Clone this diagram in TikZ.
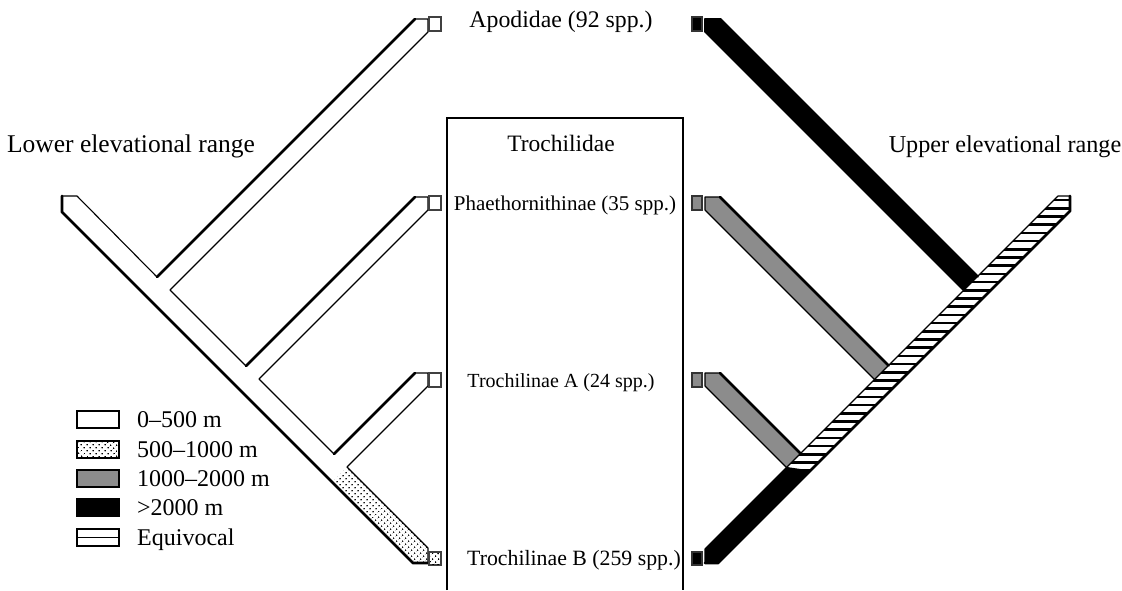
\documentclass[tikz,border=0pt]{standalone}
\usepackage{fontspec}
\setmainfont{Liberation Serif}
\usetikzlibrary{patterns.meta}
\definecolor{midgray}{gray}{0.55}
\begin{document}
\begin{tikzpicture}[x=1pt,y=-1pt,
  thick edge/.style={line width=2.8pt, line cap=round, line join=round},
  thin edge/.style={line width=1.1pt, line cap=round, line join=round},
  tipbox/.style={draw=black!75, line width=1.4pt, fill=white},
  dotfill/.style={pattern={Dots[distance=4pt,radius=0.9pt,angle=45]}},
  lbl/.style={inner sep=0pt, anchor=base},
  legtext/.style={inner sep=0pt, anchor=base west, font=\fontsize{24}{28}\selectfont},
  legbox/.style={draw=black, line width=1.5pt},
]
\useasboundingbox (0,0) rectangle (1122,590);

% ---------- left tree (lower elevational range) ----------
\fill[dotfill] (347,467) -- (332,482) -- (413,563) -- (428,563) -- (428,548) -- cycle;
\draw[thick edge] (62,196) -- (62,212) -- (413,563) -- (428,563);
\draw[thin edge] (62,196) -- (77,196) -- (157,277);
\draw[thick edge] (157,277) -- (415,19);
\draw[thin edge] (415,19) -- (428,19) -- (428,32) -- (170,290) -- (246,366);
\draw[thick edge] (246,366) -- (415,197);
\draw[thin edge] (415,197) -- (428,197) -- (428,210) -- (259,379) -- (334,454);
\draw[thick edge] (334,454) -- (415,373);
\draw[thin edge] (415,373) -- (428,373) -- (428,386) -- (347,467) -- (428,548) -- (428,563);

\draw[tipbox] (429,17) rectangle (441,31);
\draw[tipbox] (429,196) rectangle (441,210);
\draw[tipbox] (429,373) rectangle (441,387);
\draw[tipbox] (429,552) rectangle (441,565);
\fill[dotfill] (430,553) rectangle (440,564);

% ---------- right tree (upper elevational range) ----------
% hatched stem
\begin{scope}
  \clip (1058,196) -- (1070,196) -- (1070,211) -- (810,471) -- (786.5,467.5) -- cycle;
  \foreach \k in {0,...,34} \draw[line width=2.6pt] (700,{200+8.2*\k}) -- (1080,{200+8.2*\k});
\end{scope}
% black lower stem
\fill[black] (786.5,467.5) -- (810,471) -- (718,563) -- (705,563) -- (705,549) -- cycle;
% branches
\fill[black] (705,32) -- (705,19) -- (720,19) -- (977.5,276.5) -- (963.5,290.5) -- cycle;
\fill[midgray] (705,210) -- (705,197) -- (720,197) -- (888.5,365.5) -- (874.5,379.5) -- cycle;
\fill[midgray] (705,386) -- (705,373) -- (720,373) -- (800.5,453.5) -- (786.5,467.5) -- cycle;
\draw[thin edge] (705,32) -- (705,19) -- (720,19);
\draw[thin edge] (963.5,290.5) -- (705,32);
\draw[thick edge] (720,19) -- (977.5,276.5);
\draw[thick edge] (720,197) -- (888.5,365.5);
\draw[thin edge] (874.5,379.5) -- (705,210) -- (705,197) -- (720,197);
\draw[thick edge] (720,373) -- (800.5,453.5);
\draw[thin edge] (786.5,467.5) -- (705,386) -- (705,373) -- (720,373);
% stem outline
\draw[thin edge] (1070,196) -- (1058,196) -- (705,549) -- (705,563);
\draw[thick edge] (705,563) -- (718,563) -- (1070,211) -- (1070,196);
\draw[thin edge] (786.5,467.5) -- (810,471);

\draw[draw=black!80, line width=1.2pt, fill=black] (692,17) rectangle (702,31);
\draw[draw=black!80, line width=1.2pt, fill=midgray] (692,196) rectangle (702,210);
\draw[draw=black!80, line width=1.2pt, fill=midgray] (692,373) rectangle (702,387);
\draw[draw=black!80, line width=1.2pt, fill=black] (692,552) rectangle (702,565);

% ---------- centre box ----------
\draw[line width=1.8pt] (447,590) -- (447,118) -- (683,118) -- (683,590);

% ---------- labels ----------
\node[lbl, font=\fontsize{23.8}{28}\selectfont] (apo) at (561,27) {Apodidae (92 spp.)};
\node[lbl, font=\fontsize{23.5}{28}\selectfont] (tro) at (561,151) {Trochilidae};
\node[lbl, font=\fontsize{21}{25}\selectfont] (pha) at (565,210) {Phaethornithinae (35 spp.)};
\node[lbl, font=\fontsize{20}{24}\selectfont] (tra) at (561,387) {Trochilinae A (24 spp.)};
\node[lbl, font=\fontsize{21.8}{26}\selectfont] (trb) at (574,565) {Trochilinae B (259 spp.)};
\node[lbl, font=\fontsize{25.5}{30}\selectfont] (low) at (131,152) {Lower elevational range};
\node[lbl, font=\fontsize{24.2}{29}\selectfont] (upp) at (1005,152) {Upper elevational range};

% ---------- legend ----------
\draw[legbox, fill=white] (77,411) rectangle (119,428);
\draw[legbox] (77,441) rectangle (119,458);
\fill[dotfill] (78,442) rectangle (118,457);
\draw[legbox, fill=midgray] (77,470) rectangle (119,487);
\draw[legbox, fill=black] (77,499) rectangle (119,516);
\draw[legbox, fill=white] (77,529) rectangle (119,546);
\draw[line width=1.5pt] (77,537.5) -- (119,537.5);
\node[legtext] (l1) at (137,427) {0–500 m};
\node[legtext] (l2) at (137,457) {500–1000 m};
\node[legtext] (l3) at (137,486) {1000–2000 m};
\node[legtext] (l4) at (137,515) {>2000 m};
\node[legtext] (l5) at (137,545) {Equivocal};
\end{tikzpicture}
\end{document}
